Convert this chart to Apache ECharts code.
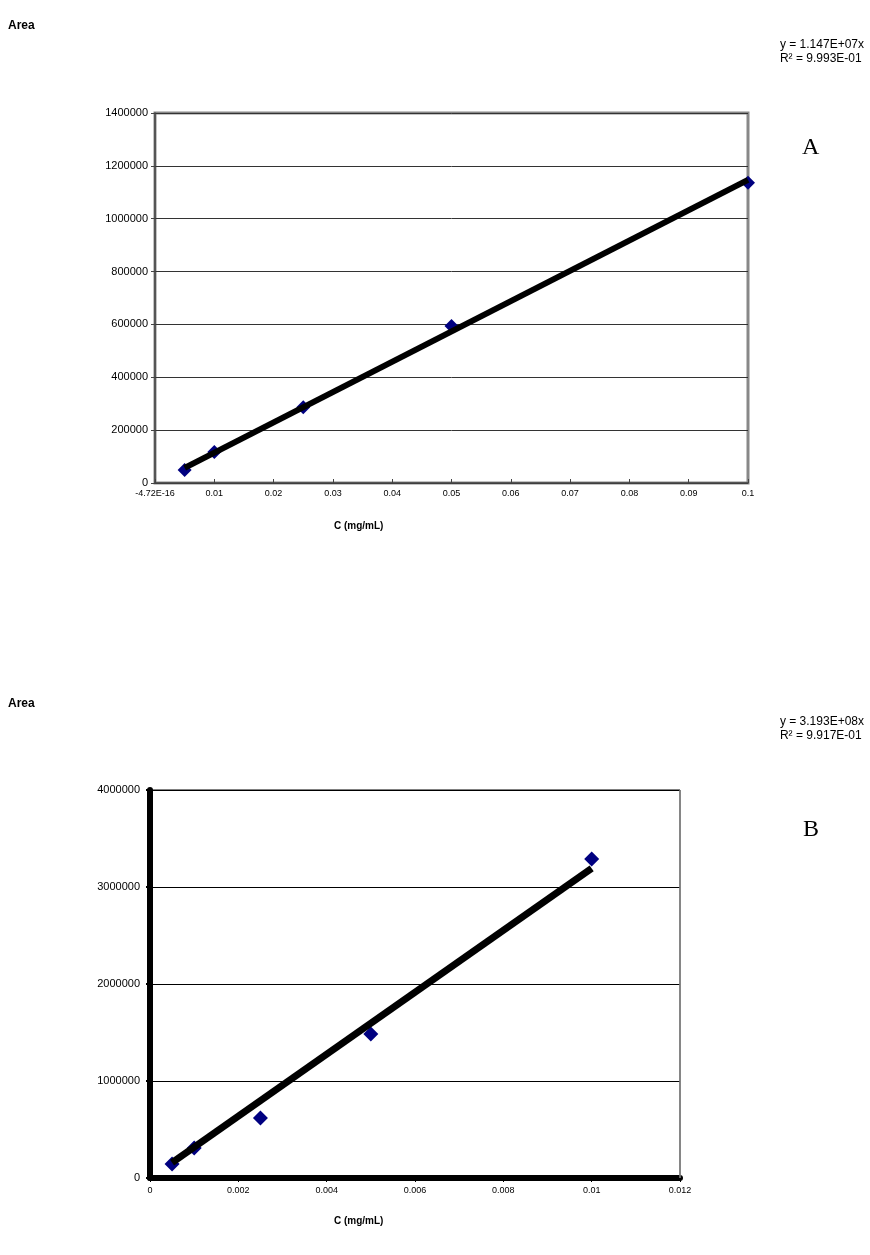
<!DOCTYPE html>
<html><head><meta charset="utf-8">
<script src="https://cdn.jsdelivr.net/npm/echarts@6/dist/echarts.min.js"></script>
<style>html,body{margin:0;padding:0;background:#fff}#c{width:870px;height:1255px}</style>
</head><body><div id="c"></div>
<script>
// Chart A data
const concA = [0.005, 0.01, 0.025, 0.05, 0.1];
const areaA = [49000, 117000, 287000, 594000, 1136000];
const slopeA = 1.147e7;
const trendXA = [0.005, 0.1];
// Chart B data
const concB = [0.0005, 0.001, 0.0025, 0.005, 0.01];
const areaB = [145000, 309000, 619000, 1484000, 3289000];
const slopeB = 3.193e8;
const trendXB = [0.0005, 0.01];
const eqA = ['y = 1.147E+07x', 'R² = 9.993E-01'];
const eqB = ['y = 3.193E+08x', 'R² = 9.917E-01'];

const ff = '"Liberation Sans", Arial, sans-serif';
const chart = echarts.init(document.getElementById('c'), null, {renderer: 'canvas'});
const toPts = (xs, ys) => xs.map((x, i) => [x, ys[i]]);
const trend = (xs, s) => xs.map(x => [x, s * x]);

const txt = (left, top, text, extra) => Object.assign({
  type: 'text', left, top,
  style: Object.assign({text, fill: '#000', font: '12px ' + ff}, extra || {})
});

chart.setOption({
  animation: false,
  grid: [
    {left: 155, top: 113, width: 593, height: 370, show: true, borderColor: '#888', borderWidth: 3, backgroundColor: '#fff'},
    {left: 150, top: 790, width: 530, height: 388, show: true, borderColor: '#000', borderWidth: 1, backgroundColor: '#fff'}
  ],
  xAxis: [
    {gridIndex: 0, type: 'value', min: 0, max: 0.1, interval: 0.01,
     axisLine: {show: true, lineStyle: {color: '#444', width: 1.5}},
     axisTick: {show: true, length: 4, inside: true, lineStyle: {color: '#444'}},
     splitLine: {show: false},
     axisLabel: {fontFamily: ff, fontSize: 9, color: '#000', margin: 6,
       formatter: v => v === 0 ? '-4.72E-16' : String(+v.toFixed(2))}},
    {gridIndex: 1, type: 'value', min: 0, max: 0.012, interval: 0.002,
     axisLine: {show: true, lineStyle: {color: '#000', width: 6}},
     axisTick: {show: true, length: 4, lineStyle: {color: '#000'}},
     splitLine: {show: false},
     axisLabel: {fontFamily: ff, fontSize: 9, color: '#000', margin: 8,
       formatter: v => String(+v.toFixed(3))}}
  ],
  yAxis: [
    {gridIndex: 0, type: 'value', min: 0, max: 1400000, interval: 200000,
     axisLine: {show: true, lineStyle: {color: '#444', width: 1.5}},
     axisTick: {show: true, length: 4, lineStyle: {color: '#444'}},
     splitLine: {show: true, lineStyle: {color: '#333', width: 1}},
     axisLabel: {fontFamily: ff, fontSize: 11, color: '#000', margin: 7, formatter: v => String(v)}},
    {gridIndex: 1, type: 'value', min: 0, max: 4000000, interval: 1000000,
     axisLine: {show: true, lineStyle: {color: '#000', width: 6}},
     axisTick: {show: true, length: 4, lineStyle: {color: '#000', width: 2}},
     splitLine: {show: true, lineStyle: {color: '#000', width: 1}},
     axisLabel: {fontFamily: ff, fontSize: 11, color: '#000', margin: 10, formatter: v => String(v)}}
  ],
  series: [
    {type: 'scatter', xAxisIndex: 0, yAxisIndex: 0, data: toPts(concA, areaA),
     symbol: 'diamond', symbolSize: 14, itemStyle: {color: '#000080', opacity: 1}, z: 3},
    {type: 'line', xAxisIndex: 0, yAxisIndex: 0, data: trend(trendXA, slopeA),
     symbol: 'none', lineStyle: {color: '#000', width: 6}, z: 4},
    {type: 'scatter', xAxisIndex: 1, yAxisIndex: 1, data: toPts(concB, areaB),
     symbol: 'diamond', symbolSize: 15, itemStyle: {color: '#000080', opacity: 1}, z: 3},
    {type: 'line', xAxisIndex: 1, yAxisIndex: 1, data: trend(trendXB, slopeB),
     symbol: 'none', lineStyle: {color: '#000', width: 7}, z: 4}
  ],
  graphic: [
    txt(8, 20, 'Area', {font: 'bold 12px ' + ff}),
    {type: 'text', right: 6, top: 38, style: {text: eqA.join('\n'), fill: '#000', font: '12px ' + ff, align: 'right', lineHeight: 14}},
    txt(802, 136, 'A', {font: '24px "Liberation Serif", "Times New Roman", serif'}),
    txt(334, 521, 'C (mg/mL)', {font: 'bold 10px ' + ff}),
    txt(8, 698, 'Area', {font: 'bold 12px ' + ff}),
    {type: 'text', right: 6, top: 715, style: {text: eqB.join('\n'), fill: '#000', font: '12px ' + ff, align: 'right', lineHeight: 14}},
    txt(803, 818, 'B', {font: '24px "Liberation Serif", "Times New Roman", serif'}),
    txt(334, 1216, 'C (mg/mL)', {font: 'bold 10px ' + ff}),
    {type: 'line', shape: {x1: 680, y1: 790, x2: 680, y2: 1178}, style: {stroke: '#888', lineWidth: 1.5}, z: 10}
  ]
});
</script></body></html>
